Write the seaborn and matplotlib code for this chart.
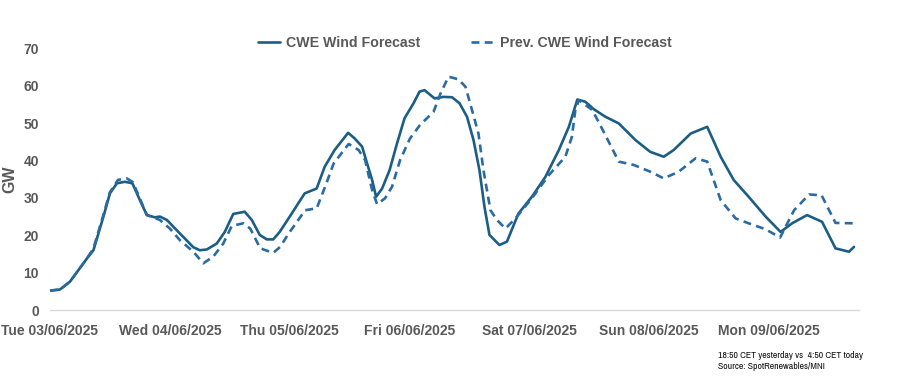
import matplotlib
matplotlib.use("Agg")
import matplotlib.pyplot as plt
import matplotlib.dates as mdates
from matplotlib import font_manager
from matplotlib.lines import Line2D
import seaborn as sns
import pandas as pd

# ---- data (hours after Tue 03/06/2025 00:00, GW) ----
start = "2025-06-03 00:00"
series_names = ["CWE Wind Forecast", "Prev. CWE Wind Forecast"]

cwe_hours = [0, 2, 4, 5.7, 7.4, 8.7, 9.7, 10.7, 12, 13.4, 15, 16.5, 18, 19.4, 21, 22,
             23.4, 26, 28.7, 30, 31.4, 33.4, 35, 36.7, 39, 40.4, 42, 43.4, 44.7, 46,
             48.4, 51, 53.4, 55, 57, 59.7, 61, 62.5, 63.5, 64.5, 65.3, 66.5, 68, 69.5,
             71, 72.8, 74, 75, 77, 78.8, 80.5, 82, 83.5, 84.8, 86, 87, 88, 90, 91.5,
             93.8, 96.5, 99.2, 101.9, 103.9, 105.6, 107.2, 108.9, 111.2, 113.9, 117.2,
             120.2, 122.9, 124.9, 128.3, 131.6, 134.3, 136.9, 139.9, 143.3, 146.3,
             148.6, 151.6, 154.6, 157.3, 160, 161]
cwe_gw = [5.2, 5.5, 7.6, 10.7, 13.8, 16.0, 20.5, 25.0, 31.2, 33.9, 34.3, 33.9, 29.4,
          25.4, 24.8, 25.0, 24.1, 20.5, 16.8, 16.0, 16.2, 17.8, 20.9, 25.7, 26.3, 24.1,
          20.1, 18.9, 18.9, 20.9, 25.8, 31.2, 32.5, 38.3, 42.8, 47.4, 45.9, 43.7, 39.2,
          34.8, 30.3, 32.5, 37.4, 44.6, 51.3, 55.3, 58.4, 58.8, 56.6, 57.0, 56.9, 55.3,
          51.7, 45.5, 37.4, 27.6, 20.1, 17.4, 18.3, 25.8, 30.3, 35.6, 42.8, 49.0, 56.3,
          55.7, 53.7, 51.7, 49.9, 45.5, 42.3, 41.0, 42.8, 47.2, 49.0, 41.0, 34.8, 30.3,
          25.0, 20.9, 23.2, 25.4, 23.6, 16.5, 15.6, 16.9]

prev_hours = [0, 2, 4, 7.4, 8.7, 10.7, 12, 13.6, 15.4, 16.6, 18, 19.4, 22, 24, 26,
              28.7, 30.7, 32.7, 34.7, 36.4, 38.7, 40.1, 42.1, 44.7, 46.1, 47.8, 51.1,
              53.4, 55.1, 56.8, 59.8, 61.8, 63.1, 64.5, 65.5, 67.1, 68.5, 70.1, 72.1,
              74.1, 76.8, 78.2, 79.8, 81.8, 83.2, 84.5, 85.8, 86.8, 88.2, 89.5, 91.2,
              93.2, 96.5, 99.9, 103.2, 104.5, 105.2, 105.9, 108.6, 111.2, 113.9, 116.9,
              120.2, 122.9, 125.9, 129.3, 131.6, 134.3, 137.3, 139.9, 143.3, 146.2, 149,
              152, 154.5, 157.3, 161]
prev_gw = [5.2, 5.5, 7.6, 13.8, 16.5, 25.5, 31.5, 34.8, 35.2, 34.2, 29.8, 25.4, 24.1,
           21.8, 18.7, 15.6, 12.5, 14.3, 17.8, 22.5, 23.2, 21.8, 16.5, 15.3, 16.9, 20.5,
           26.7, 27.2, 33.0, 39.2, 44.4, 42.8, 40.1, 32.1, 28.3, 29.9, 33.0, 40.1, 45.9,
           49.5, 53.0, 57.9, 62.4, 61.7, 59.7, 53.5, 47.2, 37.4, 26.7, 24.1, 21.8, 24.5,
           29.9, 36.1, 41.0, 46.3, 53.5, 56.1, 53.5, 46.8, 39.7, 38.8, 37.0, 35.2, 37.0,
           40.6, 39.7, 29.4, 24.5, 23.2, 21.6, 19.4, 26.7, 30.9, 30.7, 23.3, 23.2]

y_ticks = [0, 10, 20, 30, 40, 50, 60, 70]
note_lines = ["18:50 CET yesterday vs  4:50 CET today", "Source: SpotRenewables/MNI"]

# ---- build frame ----
t0 = pd.Timestamp(start)
df = pd.concat([
    pd.DataFrame({"time": t0 + pd.to_timedelta(cwe_hours, unit="h"),
                  "GW": cwe_gw, "series": series_names[0]}),
    pd.DataFrame({"time": t0 + pd.to_timedelta(prev_hours, unit="h"),
                  "GW": prev_gw, "series": series_names[1]}),
], ignore_index=True)

sns.set_theme(style="white")
plt.rcParams["font.family"] = ["Liberation Sans", "DejaVu Sans"]

# look for a condensed family for the small source note
narrow = None
for f in font_manager.fontManager.ttflist:
    if "Narrow" in f.name or "Condensed" in f.name:
        narrow = f.name
        break
note_family = [narrow, "Liberation Sans", "DejaVu Sans"] if narrow else ["Liberation Sans", "DejaVu Sans"]
note_size = 7 if narrow else 6.2

fig = plt.figure(figsize=(9.09, 3.80), dpi=100)
ax = fig.add_axes([0.055, 0.184, 0.890, 0.689])

palette = {series_names[0]: "#1b5e85", series_names[1]: "#2b6ba2"}
sns.lineplot(data=df, x="time", y="GW", hue="series", style="series",
             palette=palette, dashes={series_names[0]: "", series_names[1]: (3, 2)},
             linewidth=1.9, ax=ax, legend=False, sort=False, estimator=None)

ax.set_ylim(0, 70)
ax.set_yticks(y_ticks)
ax.set_xlim(t0, t0 + pd.Timedelta(hours=162))
ax.xaxis.set_major_locator(mdates.DayLocator())
ax.xaxis.set_major_formatter(mdates.DateFormatter("%a %d/%m/%Y"))

for s in ["top", "right", "left"]:
    ax.spines[s].set_visible(False)
ax.spines["bottom"].set_color("#d9d9d9")
ax.spines["bottom"].set_linewidth(1.0)
ax.grid(False)
ax.tick_params(axis="both", length=0)
ax.tick_params(axis="y", pad=8)
ax.tick_params(axis="x", pad=10)

for lab in ax.get_yticklabels():
    lab.set_fontweight("bold")
    lab.set_fontsize(10)
    lab.set_color("#595959")
for lab in ax.get_xticklabels():
    lab.set_fontweight("bold")
    lab.set_fontsize(10)
    lab.set_color("#595959")

ax.set_xlabel("")
ax.set_ylabel("GW", fontsize=11.5, fontweight="bold", color="#595959")
ax.yaxis.set_label_coords(-0.040, 0.5)

handles = [Line2D([], [], color=palette[series_names[0]], lw=1.9),
           Line2D([], [], color=palette[series_names[1]], lw=1.9, dashes=(3, 2))]
leg = fig.legend(handles, series_names, loc="center", bbox_to_anchor=(0.511, 0.887),
                 ncol=2, frameon=False, handlelength=1.6, handletextpad=0.4,
                 columnspacing=3.6,
                 prop={"family": ["Liberation Sans", "DejaVu Sans"], "weight": "bold", "size": 10.2})
for txt in leg.get_texts():
    txt.set_color("#595959")

fig.text(0.790, 0.050, note_lines[0] + "\n" + note_lines[1], fontsize=note_size,
         fontweight="bold", family=note_family,
         color="#111111", va="center", ha="left", linespacing=1.35)

fig.savefig("out.png", dpi=100)
